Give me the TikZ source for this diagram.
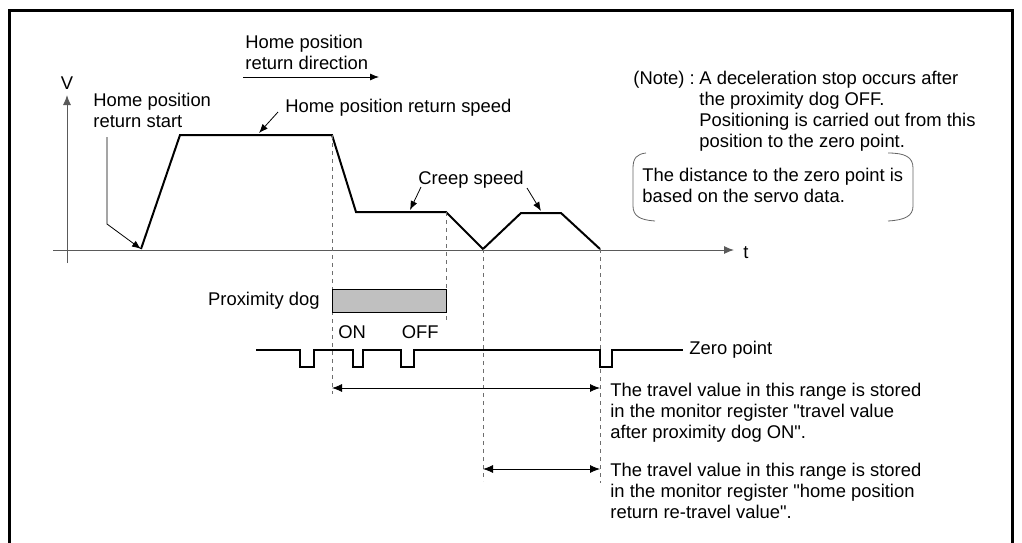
\documentclass[tikz,border=0pt]{standalone}
\usepackage{fontspec}
\setmainfont{Liberation Sans}
\usepackage{tikz}
\usetikzlibrary{arrows.meta, positioning}
\definecolor{axisgray}{RGB}{90,90,90}
\definecolor{dashgray}{RGB}{110,110,110}
\definecolor{doggray}{RGB}{192,192,192}
\definecolor{bracegray}{RGB}{100,100,100}
\tikzset{
  txt/.style={inner sep=0pt, font=\fontsize{9.2}{10.5}\selectfont, align=left},
  profile/.style={line width=1pt, line join=miter},
  guide/.style={dashgray, line width=0.4pt, dash pattern=on 2pt off 2pt},
  leader/.style={-{Latex[length=4.5pt,width=3.5pt]}, line width=0.4pt},
  span/.style={{Latex[length=5pt,width=4pt]}-{Latex[length=5pt,width=4pt]}, line width=0.4pt},
  axis/.style={-{Latex[length=5pt,width=4pt]}, axisgray, line width=0.5pt}
}

\begin{document}
\begin{tikzpicture}[x=0.5pt, y=-0.5pt,
  dogbox/.style={rectangle, draw=black, fill=doggray, line width=0.5pt,
    minimum width=57pt, minimum height=11.5pt, inner sep=0pt}]
  \useasboundingbox (0,0) rectangle (1022,542);
  % Frame
  \draw[line width=1.5pt] (9,546) -- (9,10) -- (1012,10) -- (1012,546);

  % Axes
  \coordinate (vbot) at (67,263);
  \coordinate (vtop) at (67,95);
  \coordinate (tleft) at (53,250);
  \coordinate (tright) at (734,250);
  \draw[axis] (vbot) -- (vtop);
  \draw[axis] (tleft) -- (tright);
  \node[txt, anchor=north] (vlab) at (67,76) {V};
  \node[txt, anchor=base west] (tlab) at (743,258) {t};

  % Speed profile
  \coordinate (p0) at (141,249);
  \coordinate (p1) at (180,135);
  \coordinate (p2) at (332,135);
  \coordinate (p3) at (356,212);
  \coordinate (p4) at (446,212);
  \coordinate (p5) at (483,249);
  \coordinate (p6) at (521,213);
  \coordinate (p7) at (561,213);
  \coordinate (p8) at (600,249);
  \draw[profile] (p0) -- (p1) -- (p2) -- (p3) -- (p4) -- (p5) -- (p6) -- (p7) -- (p8);

  % Guide lines
  \coordinate (g1) at (332,394);
  \coordinate (g2) at (446,320);
  \coordinate (g3) at (483,481);
  \coordinate (g4) at (600,483);
  \draw[guide] (p2) -- (g1);
  \draw[guide] (p4) -- (g2);
  \draw[guide] (p5) -- (g3);
  \draw[guide] (p8) -- (g4);

  % Direction
  \node[txt, anchor=north west] (dirlab) at (245,35) {Home position\\return direction};
  \coordinate (dirfrom) at (243,77);
  \coordinate (dirto) at (379,77);
  \draw[leader] (dirfrom) -- (dirto);

  % Labels with leaders
  \node[txt, anchor=north west] (startlab) at (93,93) {Home position\\return start};
  \coordinate (startbend) at (107,224);
  \coordinate (starttop) at (107,137);
  \draw[leader] (starttop) -- (startbend) -- (p0);

  \node[txt, anchor=north west] (speedlab) at (285,99) {Home position return speed};
  \coordinate (speedfrom) at (278,112);
  \coordinate (speedto) at (259,133);
  \draw[leader] (speedfrom) -- (speedto);

  \node[txt, anchor=north west] (creeplab) at (418,171) {Creep speed};
  \coordinate (creepa) at (421,187);
  \coordinate (creepb) at (410,210);
  \coordinate (creepc) at (527,188);
  \coordinate (creepd) at (541,211);
  \draw[leader] (creepa) -- (creepb);
  \draw[leader] (creepc) -- (creepd);

  % Note
  \node[txt, anchor=north west] (notelab) at (633,71) {(Note) :};
  \node[txt, anchor=north west] (notetext) at (699,71) {A deceleration stop occurs after\\the proximity dog OFF.\\Positioning is carried out from this\\position to the zero point.};
  \node[txt, anchor=north west] (distlab) at (642,168) {The distance to the zero point is\\based on the servo data.};
  \draw[bracegray, line width=0.4pt] (646,153) .. controls (637,154) and (633,158) .. (633,168)
    -- (633,206) .. controls (633,216) and (640,220) .. (655,221);
  \draw[bracegray, line width=0.4pt] (888,153) .. controls (905,153) and (913,157) .. (913,168)
    -- (913,206) .. controls (913,216) and (905,220) .. (888,221);

  % Proximity dog
  \node[dogbox, anchor=north west] (dog) at (332,289) {};
  \node[txt, left=6pt of dog] (doglab) {Proximity dog};
  \node[txt, below right=6pt and 3pt of dog.south west] (on) {ON};
  \node[txt, below left=6pt and 4pt of dog.south east] (off) {OFF};

  % Zero point signal
  \coordinate (zstart) at (256,350);
  \coordinate (zend) at (683,350);
  \draw[line width=1pt] (zstart) -- (300,350) -- (300,367) -- (314,367) -- (314,350)
    -- (353,350) -- (353,367) -- (363,367) -- (363,350)
    -- (401,350) -- (401,367) -- (414,367) -- (414,350)
    -- (600,350) -- (600,367) -- (612,367) -- (612,350) -- (zend);
  \node[txt, right=3pt of zend] (zerolab) {Zero point};

  % Travel ranges
  \coordinate (ra) at (332,388);
  \coordinate (rb) at (600,388);
  \coordinate (rc) at (483,469);
  \coordinate (rd) at (600,469);
  \draw[span] (ra) -- (rb);
  \draw[span] (rc) -- (rd);
  \node[txt, anchor=north west] (travel1) at (610,383) {The travel value in this range is stored\\in the monitor register \textquotedbl travel value\\after proximity dog ON\textquotedbl.};
  \node[txt, anchor=north west] (travel2) at (610,463) {The travel value in this range is stored\\in the monitor register \textquotedbl home position\\return re-travel value\textquotedbl.};
\end{tikzpicture}
\end{document}
